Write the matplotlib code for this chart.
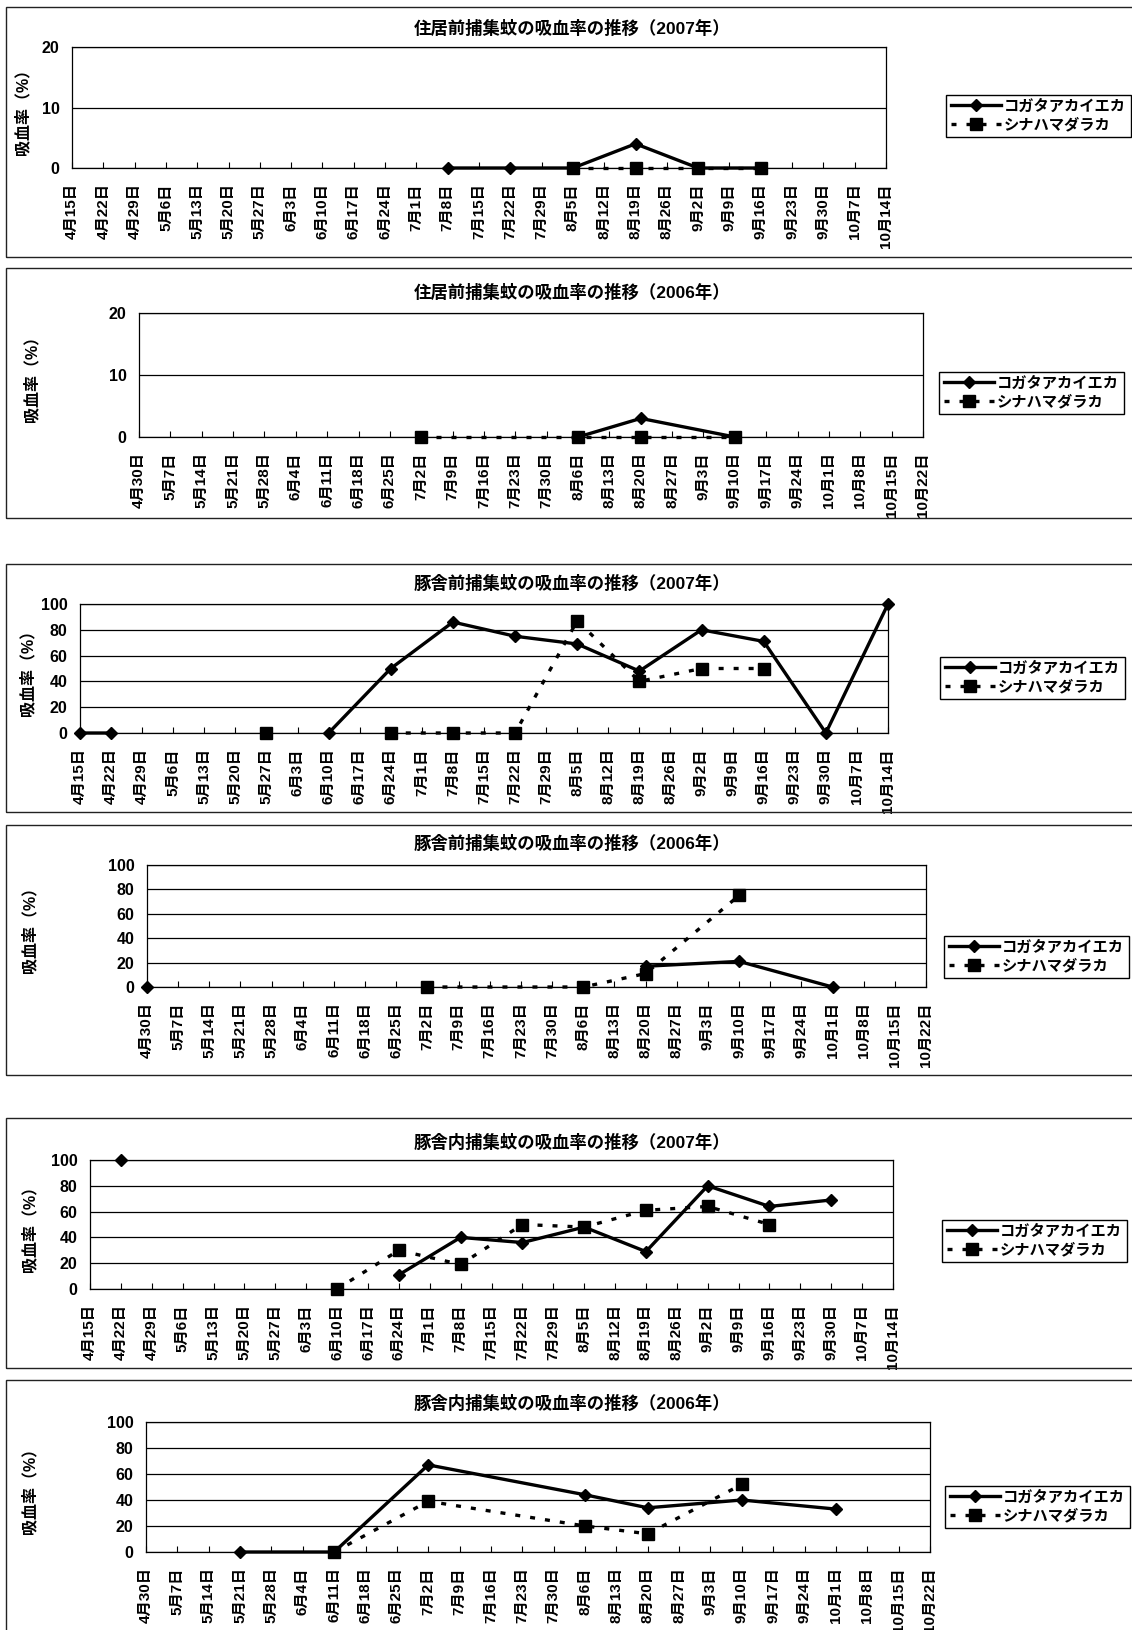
import numpy as np
import matplotlib
matplotlib.use('Agg')
import matplotlib.pyplot as plt
from matplotlib.patches import Rectangle

# Latin glyphs from Liberation Sans, kana/kanji fall back to Noto CJK
plt.rcParams['font.family'] = ['Liberation Sans', 'Noto Sans CJK JP', 'DejaVu Sans']
plt.rcParams['font.weight'] = 'bold'

nan = np.nan

# weekly category labels on the x axis
weeks_2007 = ['4月15日', '4月22日', '4月29日', '5月6日', '5月13日', '5月20日', '5月27日',
              '6月3日', '6月10日', '6月17日', '6月24日', '7月1日', '7月8日', '7月15日',
              '7月22日', '7月29日', '8月5日', '8月12日', '8月19日', '8月26日', '9月2日',
              '9月9日', '9月16日', '9月23日', '9月30日', '10月7日', '10月14日']
weeks_2006 = ['4月30日', '5月7日', '5月14日', '5月21日', '5月28日', '6月4日', '6月11日',
              '6月18日', '6月25日', '7月2日', '7月9日', '7月16日', '7月23日', '7月30日',
              '8月6日', '8月13日', '8月20日', '8月27日', '9月3日', '9月10日', '9月17日',
              '9月24日', '10月1日', '10月8日', '10月15日', '10月22日']

# 住居前 2007
jukyo07_dates = ['7月8日', '7月22日', '8月5日', '8月19日', '9月2日', '9月16日']
jukyo07_kogata = [0, 0, 0, 4, 0, 0]
jukyo07_shina = [nan, nan, 0, 0, 0, 0]

# 住居前 2006
jukyo06_dates = ['7月2日', '8月6日', '8月20日', '9月10日']
jukyo06_kogata = [nan, 0, 3, 0]
jukyo06_shina = [0, 0, 0, 0]

# 豚舎前 2007
mae07_dates = ['4月15日', '4月22日', '5月27日', '6月10日', '6月24日', '7月8日', '7月22日',
               '8月5日', '8月19日', '9月2日', '9月16日', '9月30日', '10月14日']
mae07_kogata = [0, 0, nan, 0, 50, 86, 75, 69, 48, 80, 71, 0, 100]
mae07_shina = [nan, nan, 0, nan, 0, 0, 0, 87, 40, 50, 50, nan, nan]

# 豚舎前 2006
mae06_dates = ['4月30日', '7月2日', '8月6日', '8月20日', '9月10日', '10月1日']
mae06_kogata = [0, nan, nan, 17, 21, 0]
mae06_shina = [nan, 0, 0, 11, 75, nan]

# 豚舎内 2007
nai07_dates = ['4月22日', '6月10日', '6月24日', '7月8日', '7月22日', '8月5日', '8月19日',
               '9月2日', '9月16日', '9月30日']
nai07_kogata = [100, nan, 11, 40, 36, 48, 29, 80, 64, 69]
nai07_shina = [nan, 0, 30, 19, 50, 48, 61, 64, 50, nan]

# 豚舎内 2006
nai06_dates = ['5月21日', '6月11日', '7月2日', '8月6日', '8月20日', '9月10日', '10月1日']
nai06_kogata = [0, 0, 67, 44, 34, 40, 33]
nai06_shina = [nan, 0, 39, 20, 14, 52, nan]

titles = ['住居前捕集蚊の吸血率の推移（2007年）', '住居前捕集蚊の吸血率の推移（2006年）',
          '豚舎前捕集蚊の吸血率の推移（2007年）', '豚舎前捕集蚊の吸血率の推移（2006年）',
          '豚舎内捕集蚊の吸血率の推移（2007年）', '豚舎内捕集蚊の吸血率の推移（2006年）']

W, H = 1132, 1630
fig = plt.figure(figsize=(W / 100, H / 100), dpi=100)


def fx(x):
    return x / W


def fy(y):
    return 1 - y / H


panels = [
    dict(weeks=weeks_2007, dates=jukyo07_dates, kog=jukyo07_kogata, shi=jukyo07_shina,
         ymax=20, step=10, box=(72, 886, 47, 168), border=(7, 257), title_y=28,
         leg=(946, 116), ylab_x=22),
    dict(weeks=weeks_2006, dates=jukyo06_dates, kog=jukyo06_kogata, shi=jukyo06_shina,
         ymax=20, step=10, box=(139, 923, 313, 437), border=(268, 518), title_y=292,
         leg=(939, 393), ylab_x=31),
    dict(weeks=weeks_2007, dates=mae07_dates, kog=mae07_kogata, shi=mae07_shina,
         ymax=100, step=20, box=(80, 888, 604, 733), border=(564, 812), title_y=583,
         leg=(940, 678), ylab_x=27),
    dict(weeks=weeks_2006, dates=mae06_dates, kog=mae06_kogata, shi=mae06_shina,
         ymax=100, step=20, box=(147, 926, 865, 987), border=(825, 1075), title_y=843,
         leg=(944, 957), ylab_x=29),
    dict(weeks=weeks_2007, dates=nai07_dates, kog=nai07_kogata, shi=nai07_shina,
         ymax=100, step=20, box=(90, 893, 1160, 1289), border=(1118, 1368), title_y=1142,
         leg=(942, 1241), ylab_x=29),
    dict(weeks=weeks_2006, dates=nai06_dates, kog=nai06_kogata, shi=nai06_shina,
         ymax=100, step=20, box=(146, 930, 1422, 1552), border=(1380, 1660), title_y=1403,
         leg=(945, 1507), ylab_x=29),
]

for p, title in zip(panels, titles):
    L, R, T, B = p['box']
    bt, bb = p['border']
    fig.add_artist(Rectangle((fx(6), fy(bb)), (1150 - 6) / W, (bb - bt) / H,
                             transform=fig.transFigure, fill=False, ec='#222222', lw=1.0))

    ax = fig.add_axes([fx(L), fy(B), (R - L) / W, (B - T) / H])
    weeks = p['weeks']
    x = [weeks.index(d) for d in p['dates']]
    ax.plot(x, p['kog'], color='black', lw=2.4, marker='D', ms=6.5,
            label='コガタアカイエカ', clip_on=False, zorder=4)
    ax.plot(x, p['shi'], color='black', lw=2.4, ls=(0, (1.5, 3)), marker='s', ms=9,
            label='シナハマダラカ', clip_on=False, zorder=3)

    ax.set_xlim(0, len(weeks) - 1)
    ax.set_ylim(0, p['ymax'])
    ax.set_xticks(range(len(weeks)))
    ax.set_xticklabels(weeks, rotation=90, fontsize=11, fontweight='bold')
    ax.set_yticks(np.arange(0, p['ymax'] + 1, p['step']))
    ax.tick_params(axis='x', direction='in', length=4, width=0.8, pad=11)
    ax.tick_params(axis='y', length=0, pad=9, labelsize=11.5)
    for t in ax.get_yticklabels():
        t.set_fontweight('bold')
    ax.grid(axis='y', color='black', lw=0.9)
    for s in ax.spines.values():
        s.set_linewidth(0.9)
        s.set_color('black')

    fig.text(fx(572), fy(p['title_y']), title, ha='center', va='center',
             fontsize=12.5, fontweight='bold')
    fig.text(fx(p['ylab_x']), fy((T + B) / 2), '吸血率（%）', rotation=90,
             ha='center', va='center', fontsize=11.5, fontweight='bold')

    lx, ly = p['leg']
    leg = ax.legend(loc='center left', bbox_to_anchor=(fx(lx), fy(ly)),
                    bbox_transform=fig.transFigure, prop={'size': 11, 'weight': 'bold'},
                    fancybox=False, edgecolor='black', framealpha=1, handlelength=3.3,
                    handletextpad=0.2, borderpad=0.3, labelspacing=0.3, borderaxespad=0)
    leg.get_frame().set_linewidth(1.0)

fig.savefig('out.png', dpi=100)
